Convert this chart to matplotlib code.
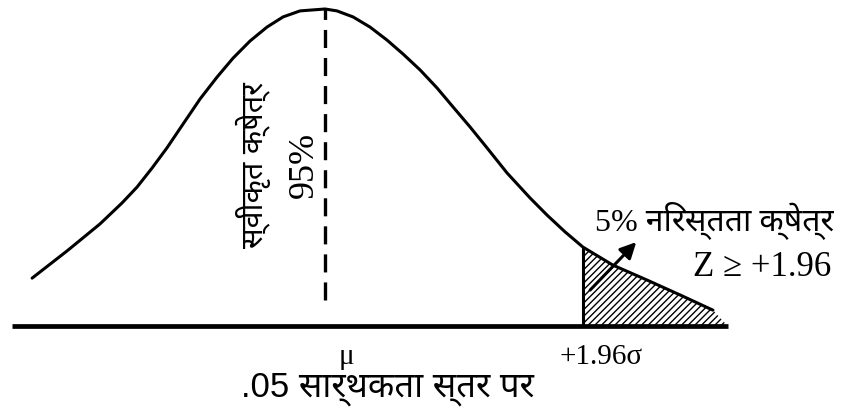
import matplotlib
matplotlib.use('Agg')
import numpy as np
import matplotlib.pyplot as plt
from matplotlib import font_manager
from matplotlib.ft2font import FT2Font

# curve: x in sigma units, height as fraction of peak
z_pts = [-2.226, -1.960, -1.710, -1.543, -1.429, -1.315, -1.201, -1.079, -0.950,
         -0.821, -0.699, -0.570, -0.441, -0.319, -0.190, 0.0,
         0.091, 0.213, 0.342, 0.471, 0.593, 0.722, 0.851, 0.973, 1.102, 1.231,
         1.383, 1.558, 1.687, 1.824, 1.96, 2.188, 2.447, 2.698, 2.948]
h_pts = [0.151, 0.237, 0.322, 0.388, 0.438, 0.498, 0.562, 0.637, 0.716,
         0.785, 0.845, 0.899, 0.943, 0.975, 0.994, 1.0,
         0.994, 0.975, 0.943, 0.902, 0.858, 0.808, 0.751, 0.691, 0.628, 0.562,
         0.483, 0.404, 0.350, 0.297, 0.249, 0.192, 0.145, 0.098, 0.050]

mean_z = 0.0
critical_z = 1.96
tail_end_z = 3.06
baseline_extent = [-2.38, 3.06]

label_accept = 'स्वीकृत क्षेत्र'
label_accept_pct = '95%'
label_reject = '5% निरस्तता क्षेत्र'
label_z = 'Z ≥ +1.96'
label_mu = 'μ'
label_crit = '+1.96σ'
label_level = '.05 सार्थकता स्तर पर'


def devanagari_font():
    found = []
    for f in font_manager.fontManager.ttflist:
        try:
            if 0x0915 in FT2Font(f.fname).get_charmap():
                found.append(f.name)
        except Exception:
            pass
    for pref in ['Noto Sans Devanagari', 'Lohit', 'Mukta', 'FreeSans', 'Gargi']:
        for name in found:
            if pref in name:
                return name
    return found[0] if found else 'DejaVu Sans'


deva = devanagari_font()
serif = ['Liberation Serif', deva, 'DejaVu Serif']
sans = ['Liberation Sans', deva, 'DejaVu Sans']

plt.rcParams['hatch.linewidth'] = 1.0
plt.rcParams['lines.scale_dashes'] = False

z = np.array(z_pts)
h = np.array(h_pts)

fig = plt.figure(figsize=(8.44, 4.2), dpi=100)
ax = fig.add_axes([0, 0, 1, 1])
ax.set_xlim(-2.470, 3.944)
ax.set_ylim(-0.2965, 1.0284)
ax.axis('off')

# shaded rejection tail
mask = z >= critical_z
z_tail = np.append(z[mask], tail_end_z)
h_tail = np.append(h[mask], 0)
ax.fill_between(z_tail, 0, h_tail, facecolor='none', edgecolor='k',
                hatch='/////', linewidth=0)
ax.vlines(critical_z, 0, h[z == critical_z][0], color='k', lw=2.2)

# curve, mean line and baseline
ax.plot(z, h, color='k', lw=2.2, solid_capstyle='round', solid_joinstyle='round')
ax.vlines(mean_z, 0.082, h.max(), color='k', lw=2.4, linestyles=[(0, (13, 7.2))])
ax.hlines(0, baseline_extent[0], baseline_extent[1], color='k', lw=3.4)

# arrow to the tail
ax.annotate('', xy=(2.38, 0.271), xytext=(2.0, 0.107),
            arrowprops=dict(arrowstyle='-|>', color='k', lw=2.2, mutation_scale=24))

ax.text(-0.547, 0.508, label_accept, rotation=90, ha='center', va='center',
        fontsize=22, family=sans)
ax.text(-0.160, 0.508, label_accept_pct, rotation=90, ha='center', va='center',
        fontsize=26, family=serif)
ax.text(3.868, 0.334, label_reject, ha='right', va='center', fontsize=23, family=serif)
ax.text(3.845, 0.183, label_z, ha='right', va='center', fontsize=25, family=serif)
ax.text(0.160, -0.098, label_mu, ha='center', va='center', fontsize=21, family=serif)
ax.text(2.097, -0.098, label_crit, ha='center', va='center', fontsize=21, family=serif)
ax.text(0.471, -0.199, label_level, ha='center', va='center', fontsize=25, family=sans)

fig.savefig('out.png', dpi=100)
